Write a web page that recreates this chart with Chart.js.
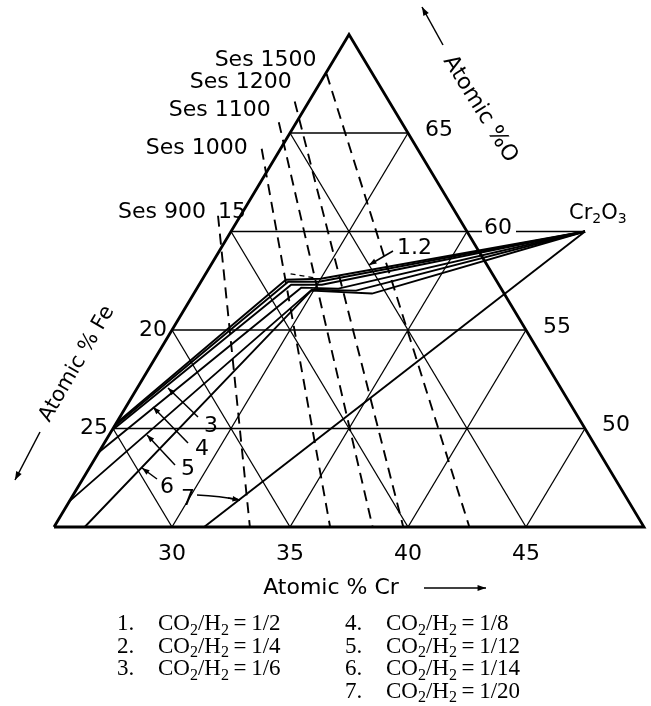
<!DOCTYPE html>
<html>
<head>
<meta charset="utf-8">
<script src="https://cdn.jsdelivr.net/npm/chart.js@4"></script>
<style>
	html, body { margin: 0; padding: 0; background: #fff; }
	canvas { display: block; }
</style>
</head>
<body>
<canvas id="chart-canvas" width="651" height="706"></canvas>
<script>
// compositions are [Cr, O] in atomic %, Fe is whatever is left
const o_grid = [50, 55, 60, 65]
const cr_grid = [30, 35, 40, 45]
const fe_grid = [10, 15, 20, 25]
const fe_ticks = [15, 20, 25]

const cr2o3 = [40, 60]

const ses_labels = ['Ses 900', 'Ses 1000', 'Ses 1100', 'Ses 1200', 'Ses 1500']
const ses_top = [[24.05, 60.8], [24.2, 64.2], [24.25, 65.55], [24.4, 66.6], [25.05, 68.0]]
const ses_bottom = [[33.3, 45], [36.7, 45], [38.5, 45], [39.8, 45], [42.6, 45]]

const path_1 = [[25, 50.25], [28.55, 57.55], [30.0, 57.6], [40, 60]]
const path_2 = [[25, 50.1], [28.7, 57.45], [30.0, 57.45], [40, 60]]
const path_3 = [[25, 49.9], [28.9, 57.3], [30.2, 57.3], [40, 60]]
const path_4 = [[25, 48.8], [29.4, 57.15], [31.0, 57.1], [40, 60]]
const path_5 = [[25, 46.3], [29.9, 57.05], [31.8, 57.0], [40, 60]]
const path_6 = [[26.3, 45], [29.9, 57.0], [32.55, 56.85], [40, 60]]
const path_7 = [[31.36, 45], [40, 60]]
const short_dash = [[28.6, 57.85], [29.7, 57.65]]

const ratio_numbers = ['1.', '2.', '3.', '4.', '5.', '6.', '7.']
const ratio_values = ['1/2', '1/4', '1/6', '1/8', '1/12', '1/14', '1/20']

const sans = '"DejaVu Sans", sans-serif'
const serif = '"Liberation Serif", "DejaVu Serif", serif'

const chart_canvas = document.getElementById('chart-canvas')

function cart(point) {
	return {x: point[0] + (point[1] - 45) / 2, y: point[1]}
}

function line_set(points, width, dash) {
	return {
		data: points.map(cart),
		showLine: true,
		borderColor: '#000',
		borderWidth: width,
		borderDash: dash || [],
		pointRadius: 0,
		pointHoverRadius: 0,
		clip: false,
		tension: 0
	}
}

function get_datasets() {
	let sets = []
	sets.push(line_set([[25, 45], [50, 45], [25, 70], [25, 45]], 2.8))
	for (let i = 0; i < o_grid.length; i ++) {
		sets.push(line_set([[25, o_grid[i]], [95 - o_grid[i], o_grid[i]]], 1.3))
	}
	for (let i = 0; i < cr_grid.length; i ++) {
		sets.push(line_set([[cr_grid[i], 45], [cr_grid[i], 95 - cr_grid[i]]], 1.3))
	}
	for (let i = 0; i < fe_grid.length; i ++) {
		sets.push(line_set([[25, 75 - fe_grid[i]], [55 - fe_grid[i], 45]], 1.3))
	}
	// tie line out to Cr2O3 along O = 60
	sets.push(line_set([[35, 60], cr2o3], 1.6))
	for (let i = 0; i < ses_top.length; i ++) {
		sets.push(line_set([ses_top[i], ses_bottom[i]], 1.9, [11, 7]))
	}
	let paths = [path_1, path_2, path_3, path_4, path_5, path_6, path_7]
	for (let i = 0; i < paths.length; i ++) {
		sets.push(line_set(paths[i], 1.9))
	}
	sets.push(line_set(short_dash, 1.3, [5, 4]))
	return sets
}

function tern_px(chart, cr, o) {
	let p = cart([cr, o])
	return [chart.scales.x.getPixelForValue(p.x), chart.scales.y.getPixelForValue(p.y)]
}

function arrow(ctx, x1, y1, x2, y2, head) {
	let angle = Math.atan2(y2 - y1, x2 - x1)
	ctx.beginPath()
	ctx.moveTo(x1, y1)
	ctx.lineTo(x2, y2)
	ctx.stroke()
	ctx.beginPath()
	ctx.moveTo(x2, y2)
	ctx.lineTo(x2 - head * Math.cos(angle - 0.35), y2 - head * Math.sin(angle - 0.35))
	ctx.lineTo(x2 - head * Math.cos(angle + 0.35), y2 - head * Math.sin(angle + 0.35))
	ctx.closePath()
	ctx.fill()
}

// draws text with subscript pieces, parts are [text, is_sub]
function rich_text(ctx, parts, x, y, size, family) {
	ctx.textAlign = 'left'
	ctx.textBaseline = 'alphabetic'
	for (let i = 0; i < parts.length; i ++) {
		let sub = parts[i][1]
		ctx.font = `${sub ? Math.round(size * 0.68) : size}px ${family}`
		ctx.fillText(parts[i][0], x, sub ? y + size * 0.2 : y)
		x += ctx.measureText(parts[i][0]).width
	}
}

const text_plugin = {
	id: 'text_plugin',
	beforeDraw(chart) {
		let ctx = chart.ctx
		ctx.save()
		ctx.fillStyle = '#fff'
		ctx.fillRect(0, 0, chart.width, chart.height)
		ctx.restore()
	},
	afterDraw(chart) {
		let ctx = chart.ctx
		ctx.save()
		ctx.fillStyle = '#000'
		ctx.strokeStyle = '#000'
		ctx.lineWidth = 1.5
		ctx.font = `22px ${sans}`

		// Cr along the bottom
		ctx.textAlign = 'center'
		ctx.textBaseline = 'middle'
		for (let i = 0; i < cr_grid.length; i ++) {
			let p = tern_px(chart, cr_grid[i], 45)
			ctx.fillText(String(cr_grid[i]), p[0], p[1] + 27)
		}

		// O on the right edge
		ctx.textAlign = 'left'
		for (let i = 0; i < o_grid.length; i ++) {
			let p = tern_px(chart, 95 - o_grid[i], o_grid[i])
			let w = ctx.measureText(String(o_grid[i])).width
			ctx.fillStyle = '#fff'
			ctx.fillRect(p[0] + 15, p[1] - 10, w + 6, 18)
			ctx.fillStyle = '#000'
			ctx.fillText(String(o_grid[i]), p[0] + 17, p[1] - 3)
		}

		// Fe on the left edge
		ctx.textAlign = 'right'
		for (let i = 0; i < fe_ticks.length; i ++) {
			let p = tern_px(chart, 25, 75 - fe_ticks[i])
			if (fe_ticks[i] == 15) {
				ctx.textAlign = 'center'
				ctx.fillText('15', p[0] + 1, p[1] - 19)
				ctx.textAlign = 'right'
			} else {
				ctx.fillText(String(fe_ticks[i]), p[0] - 5, p[1])
			}
		}

		// Ses labels, right aligned at the top of each dashed line
		ctx.textAlign = 'right'
		let ses_offsets = [[-12, -3], [-14, 0], [-8, -12], [-3, -19], [-10, -14]]
		for (let i = 0; i < ses_labels.length; i ++) {
			let p = tern_px(chart, ses_top[i][0], ses_top[i][1])
			ctx.fillText(ses_labels[i], p[0] + ses_offsets[i][0], p[1] + ses_offsets[i][1])
		}

		// Cr2O3
		let c = tern_px(chart, cr2o3[0], cr2o3[1])
		rich_text(ctx, [['Cr', false], ['2', true], ['O', false], ['3', true]], c[0] - 16, c[1] - 13, 21, sans)

		// path numbers with arrows
		ctx.font = `22px ${sans}`
		ctx.textAlign = 'left'
		ctx.textBaseline = 'middle'
		ctx.fillText('1.2', 397, 248)
		arrow(ctx, 393, 251, 369, 265, 8)
		let nums = [['3', 204, 426, 198, 417, 168, 388], ['4', 195, 449, 188, 443, 153, 407],
			['5', 181, 469, 175, 465, 147, 435], ['6', 160, 487, 157, 479, 142, 468]]
		for (let i = 0; i < nums.length; i ++) {
			let n = nums[i]
			ctx.fillText(n[0], n[1], n[2])
			arrow(ctx, n[3], n[4], n[5], n[6], 8)
		}
		ctx.fillText('7', 181, 499)
		ctx.beginPath()
		ctx.moveTo(197, 495)
		ctx.quadraticCurveTo(220, 496, 240, 500)
		ctx.stroke()
		arrow(ctx, 228, 498, 240, 500, 8)

		// axis titles
		ctx.textAlign = 'center'
		ctx.fillText('Atomic % Cr', 331, 588)
		arrow(ctx, 424, 588, 486, 588, 9)

		ctx.save()
		ctx.translate(480, 109)
		ctx.rotate(58 * Math.PI / 180)
		ctx.fillText('Atomic %O', 0, 0)
		ctx.restore()
		arrow(ctx, 443, 45, 422, 7, 9)

		ctx.save()
		ctx.translate(77, 364)
		ctx.rotate(-60 * Math.PI / 180)
		ctx.font = `21px ${sans}`
		ctx.fillText('Atomic % Fe', 0, 0)
		ctx.restore()
		arrow(ctx, 40, 432, 15, 480, 9)

		// legend
		ctx.textBaseline = 'alphabetic'
		for (let i = 0; i < ratio_values.length; i ++) {
			let col = i < 3 ? 0 : 1
			let row = i < 3 ? i : i - 3
			let x = col == 0 ? 117 : 345
			let y = 630 + row * 22.5
			ctx.font = `23px ${serif}`
			ctx.textAlign = 'left'
			ctx.fillText(ratio_numbers[i], x, y)
			rich_text(ctx, [['CO', false], ['2', true], ['/H', false], ['2', true], ['\u2009=\u2009' + ratio_values[i], false]], x + 41, y, 23, serif)
		}
		ctx.restore()
	}
}

new Chart(chart_canvas, {
	type: 'scatter',
	data: {datasets: get_datasets()},
	options: {
		responsive: false,
		animation: false,
		devicePixelRatio: 1,
		layout: {padding: {left: 54, right: 7, top: 34.5, bottom: 179}},
		scales: {
			x: {type: 'linear', min: 25, max: 50, display: false},
			y: {type: 'linear', min: 45, max: 70, display: false}
		},
		plugins: {
			legend: {display: false},
			tooltip: {enabled: false}
		},
		events: []
	},
	plugins: [text_plugin]
})
</script>
</body>
</html>
